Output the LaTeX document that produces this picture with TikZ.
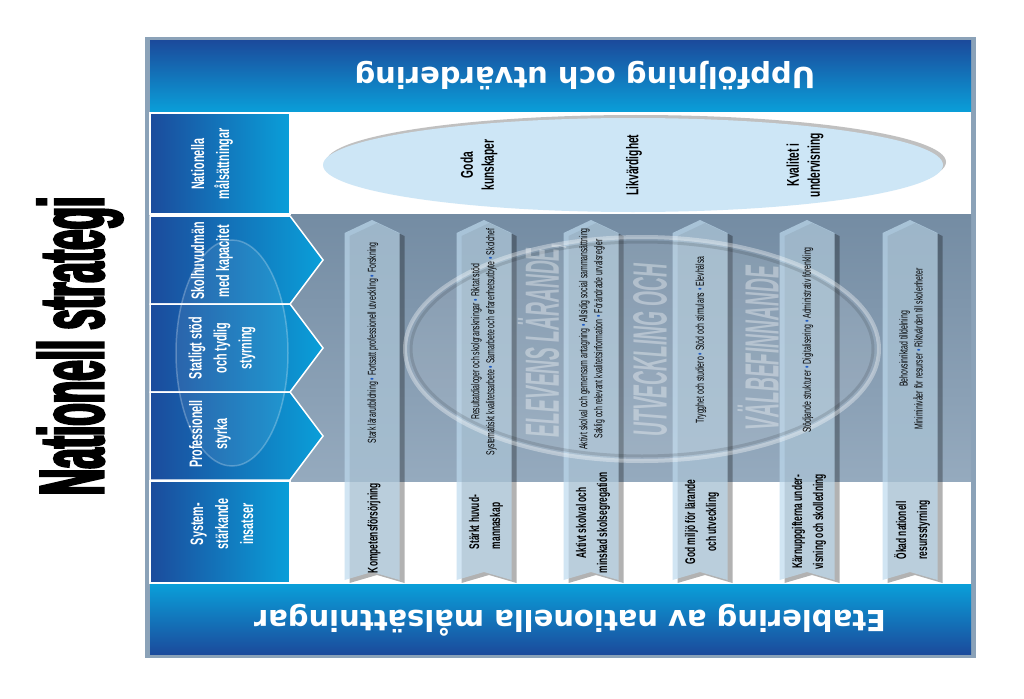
\documentclass[tikz,border=0pt]{standalone}
\usepackage{fontspec}
\setmainfont{Liberation Sans}
\newfontfamily\condfont[FakeStretch=0.6]{Liberation Sans}
\newfontfamily\tightfont[FakeStretch=0.4]{Liberation Sans}
\newfontfamily\titlefont[FakeStretch=0.4, FakeBold=2.5]{Liberation Sans}
\newfontfamily\bandfont{DejaVu Sans}
\definecolor{bluedark}{HTML}{1B4B9C}
\definecolor{bluelight}{HTML}{0A9FD9}
\definecolor{paneltop}{HTML}{748CA3}
\definecolor{panelgray}{HTML}{95AABE}
\definecolor{framegray}{HTML}{8BA2B8}
\definecolor{goalblue}{HTML}{CDE6F6}
\definecolor{stripblue}{RGB}{190,218,238}
\definecolor{dotblue}{HTML}{1F5BC4}
\newcommand{\bul}{\textcolor{dotblue}{•}}
\tikzset{
  headcell/.style={left color=bluedark, right color=bluelight, draw=white, line width=1.5pt},
  headlabel/.style={text=white, rotate=90, align=center, font=\condfont\bfseries\fontsize{18}{25}\selectfont},
  bandlabel/.style={text=white, rotate=180, font=\bandfont\bfseries\fontsize{29}{34}\selectfont},
  goallabel/.style={rotate=90, align=center, font=\condfont\bfseries\fontsize{17}{21}\selectfont},
  arealabel/.style={rotate=90, align=center, font=\condfont\bfseries\fontsize{14}{21}\selectfont},
  actlabel/.style={rotate=90, align=center, font=\condfont\fontsize{11.5}{15}\selectfont},
  motto/.style={rotate=90, text=white, text opacity=.35, font=\tightfont\bfseries\itshape\fontsize{48}{50}\selectfont},
  ribbon/.pic={
    \fill[black, opacity=.3] (-22.5,236) -- (5,223) -- (32.5,236) -- (32.5,583) -- (5,575) -- (-22.5,583) -- cycle;
    \fill[stripblue, opacity=.7] (-27.5,233) -- (0,220) -- (27.5,233) -- (27.5,580) -- (0,572) -- (-27.5,580) -- cycle;
  }
}
\begin{document}
\begin{tikzpicture}[x=1pt, y=-1pt]
\useasboundingbox (0,0) rectangle (1024,698);
\fill[white] (0,0) rectangle (1024,698);
\node[rotate=90, font=\titlefont\bfseries\fontsize{92}{92}\selectfont] (title) at (80,346) {Nationell strategi};
\fill[framegray] (145,37) rectangle (976,658);
\fill[white] (150,112) rectangle (971,584);
\path[top color=bluedark, bottom color=bluelight] (150,41) rectangle (971,112);
\path[top color=bluelight, bottom color=bluedark] (150,584) rectangle (971,654);
\path[top color=paneltop, bottom color=panelgray] (290,214) rectangle (971,481);
\path[headcell] (150,113) rectangle (290,214);
\path[headcell] (150,216) -- (290,216) -- (323,260) -- (290,304) -- (150,304) -- cycle;
\path[headcell] (150,304) -- (290,304) -- (323,348) -- (290,392) -- (150,392) -- cycle;
\path[headcell] (150,392) -- (290,392) -- (323,436) -- (290,480) -- (150,480) -- cycle;
\path[headcell] (150,481) rectangle (290,583);
\draw[white, opacity=.25, line width=1.5pt, fill=white, fill opacity=.08] (232,353) ellipse [x radius=56pt, y radius=113pt];
\node[headlabel] (goals) at (212,164) {Nationella\\målsättningar};
\node[headlabel] (owners) at (212,261) {Skolhuvudmän\\med kapacitet};
\node[headlabel] (state) at (222,348) {Statligt stöd\\och tydlig\\styrning};
\node[headlabel] (prof) at (210,434) {Professionell\\styrka};
\node[headlabel] (system) at (222,524) {System-\\stärkande\\insatser};
\fill[black!35, opacity=.7] (636,162) ellipse [x radius=310pt, y radius=47pt];
\fill[goalblue] (633,165) ellipse [x radius=310pt, y radius=47pt];
\node[goallabel] (know) at (479,165) {Goda\\kunskaper};
\node[goallabel] (equal) at (634,165) {Likvärdighet};
\node[goallabel] (quality) at (805,165) {Kvalitet i\\undervisning};
\pic (r1) at (372,0) {ribbon};
\pic (r2) at (484,0) {ribbon};
\pic (r3) at (591,0) {ribbon};
\pic (r4) at (700,0) {ribbon};
\pic (r5) at (807,0) {ribbon};
\pic (r6) at (910,0) {ribbon};
\draw[white, opacity=.35, line width=4pt, fill=white, fill opacity=.1] (642,349) ellipse [x radius=237pt, y radius=112pt];
\draw[black, opacity=.12, line width=3pt] (642,349) ellipse [x radius=231pt, y radius=107pt];
\node[motto] (pupil) at (542,340) {ELEVENS LÄRANDE,};
\node[motto] (growth) at (650,350) {UTVECKLING OCH};
\node[motto] (wellbeing) at (758,348) {VÄLBEFINNANDE};
\node[arealabel] (area1) at (374,528) {Kompetensförsörjning};
\node[arealabel, align=left] (area2) at (486,522) {Stärkt huvud-\\mannaskap};
\node[arealabel] (area3) at (593,523) {Aktivt skolval och\\minskad skolsegregation};
\node[arealabel] (area4) at (702,522) {God miljö för lärande\\och utveckling};
\node[arealabel] (area5) at (809,522) {Kärnuppgifterna under-\\visning och skolledning};
\node[arealabel, align=left] (area6) at (912,530) {Ökad nationell\\resursstyrning};
\node[actlabel] (act1) at (373,343) {Stark lärarutbildning \bul{} Fortsatt professionell utveckling \bul{} Forskning};
\node[actlabel] (act2) at (484,342) {Resultatdialoger och skolgranskningar \bul{} Riktat stöd\\Systematiskt kvalitetsarbete \bul{} Samarbete och erfarenhetsutbyte \bul{} Skolchef};
\node[actlabel] (act3) at (592,339) {Aktivt skolval och gemensam antagning \bul{} Allsidig social sammansättning\\Saklig och relevant kvalitetsinformation \bul{} Förändrade urvalsregler};
\node[actlabel] (act4) at (701,340) {Trygghet och studiero \bul{} Stöd och stimulans \bul{} Elevhälsa};
\node[actlabel] (act5) at (808,340) {Stödjande strukturer \bul{} Digitalisering \bul{} Administrativ förenkling};
\node[actlabel] (act6) at (911,349) {Behovsinriktad tilldelning\\Miniminivåer för resurser \bul{} Riktvärden till skolenheter};
\node[bandlabel] (follow) at (585,76) {Uppföljning och utvärdering};
\node[bandlabel] (establish) at (570,620) {Etablering av nationella målsättningar};
\end{tikzpicture}
\end{document}
